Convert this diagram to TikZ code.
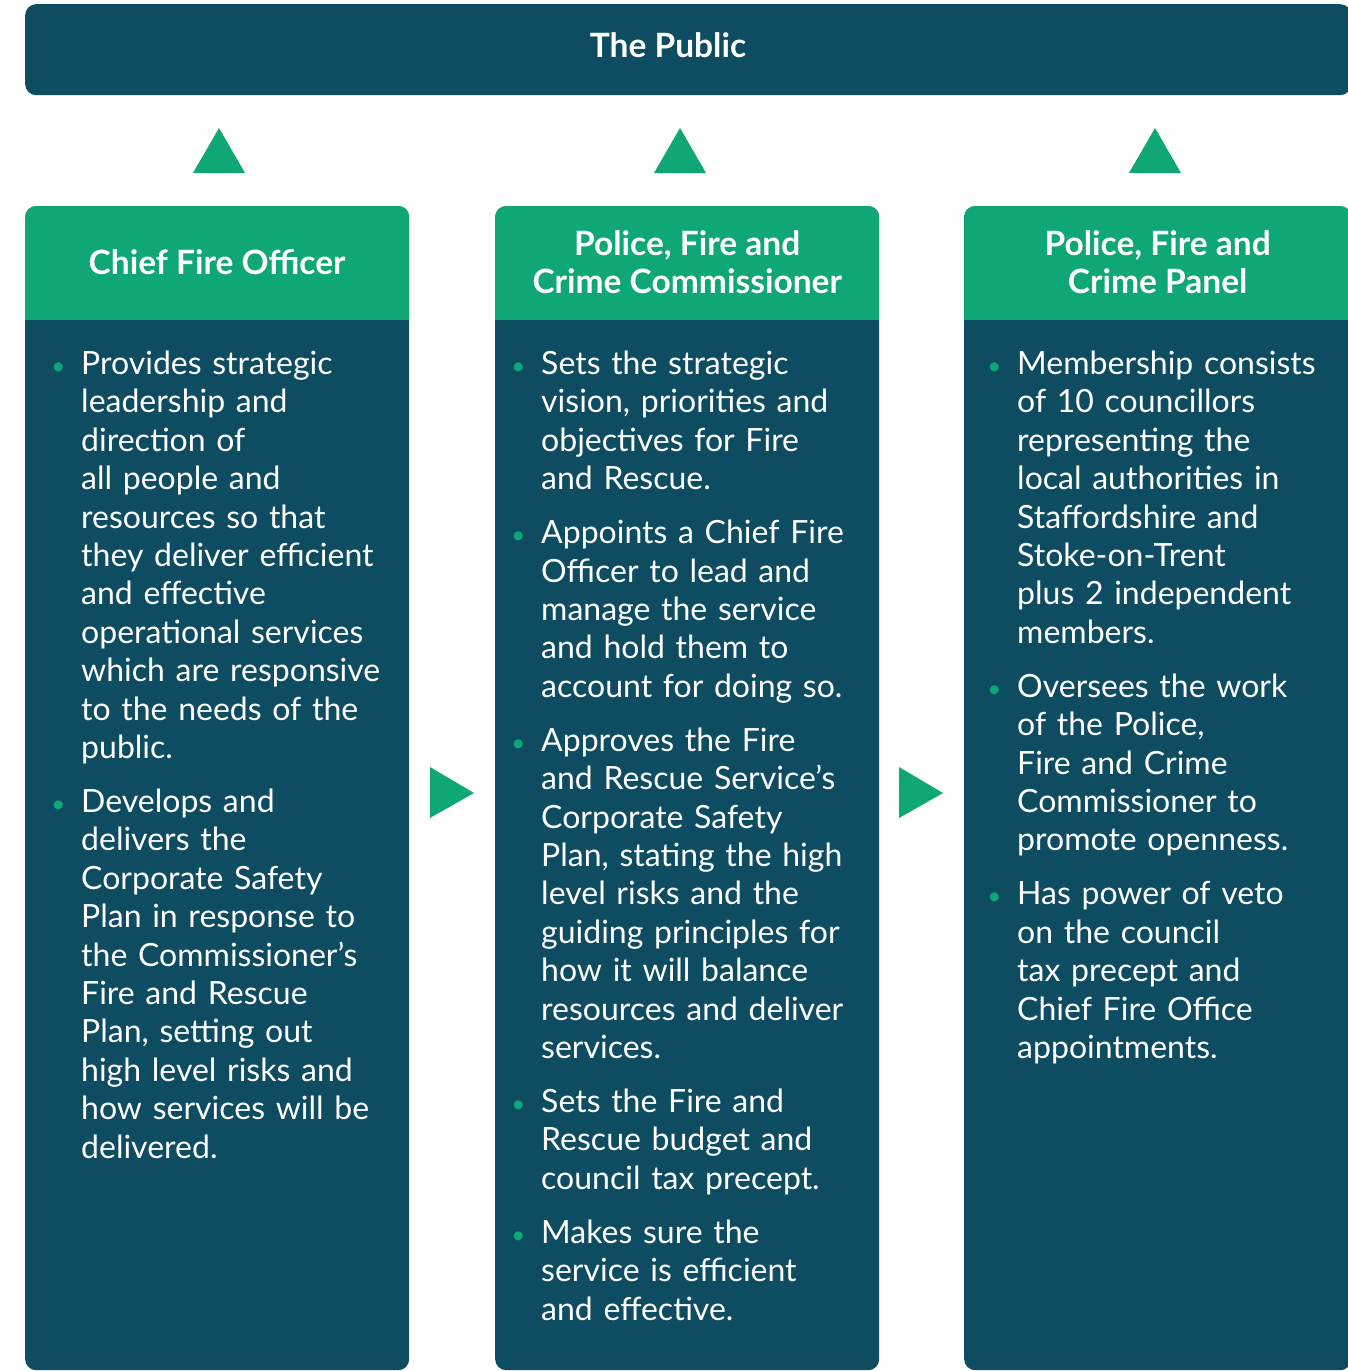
\documentclass[tikz,border=0pt]{standalone}
\usepackage{fontspec}
\setmainfont{Lato}
\usetikzlibrary{calc,positioning}
\definecolor{pfcdark}{HTML}{0E4C62}
\definecolor{pfcgreen}{HTML}{0EA775}
\newcommand{\pitem}{\leavevmode\llap{\textcolor{pfcgreen}{\fontsize{24}{24}\selectfont\textbullet}\hspace{16pt}}}
\newcommand{\nextitem}{\par\vspace{15.6pt}\pitem}

\begin{document}
\begin{tikzpicture}[x=1pt, y=-1pt,
    colbox/.style={rectangle, rounded corners=11pt, fill=pfcdark, inner sep=0pt, anchor=north west},
    headtext/.style={text=white, font=\fontsize{33.5}{38}\selectfont\bfseries, align=center, inner sep=0pt},
    bodytext/.style={text=white, font=\fontsize{32}{38.4}\selectfont, text width=345pt, align=left, inner sep=0pt, anchor=base west}]
    \useasboundingbox[fill=white] (0,0) rectangle (1347,1371);

    % top bar
    \node[colbox, minimum width=1326pt, minimum height=91pt] (public) at (25,4) {};
    \node[headtext] (public label) at (668,45) {The Public};

    % the three columns
    \node[colbox, minimum width=384pt, minimum height=1164pt] (cfo) at (25,206) {};
    \node[colbox, minimum width=384pt, minimum height=1164pt] (pfcc) at (495,206) {};
    \node[colbox, minimum width=387pt, minimum height=1164pt] (panel) at (964,206) {};
    \foreach \b in {cfo,pfcc,panel}{
        \begin{scope}
            \clip[rounded corners=11pt] (\b.north west) rectangle (\b.south east);
            \fill[pfcgreen] (\b.north west) rectangle ($(\b.north east)+(0,114)$);
        \end{scope}
    }
    \node[headtext] (cfo head) at ($(cfo.north)+(0,56)$) {Chief Fire Officer};
    \node[headtext] (pfcc head) at ($(pfcc.north)+(0,56)$) {Police, Fire and\\Crime Commissioner};
    \node[headtext] (panel head) at ($(panel.north)+(0,56)$) {Police, Fire and\\Crime Panel};

    % arrows
    \foreach \x in {219,680,1155}
        \fill[pfcgreen] (\x-26,173) -- (\x+26,173) -- (\x,128) -- cycle;
    \foreach \x in {430,899}
        \fill[pfcgreen] (\x,767) -- (\x,818) -- (\x+44,793) -- cycle;

    \node[bodytext] (cfo text) at (81,374.5) {\pitem Provides strategic\\leadership and\\direction of\\all people and\\resources so that\\they deliver efficient\\and effective\\operational services\\which are responsive\\to the needs of the\\public.
        \nextitem Develops and\\delivers the\\Corporate Safety\\Plan in response to\\the Commissioner’s\\Fire and Rescue\\Plan, setting out\\high level risks and\\how services will be\\delivered.};
    \node[bodytext] (pfcc text) at (541,374.5) {\pitem Sets the strategic\\vision, priorities and\\objectives for Fire\\and Rescue.
        \nextitem Appoints a Chief Fire\\Officer to lead and\\manage the service\\and hold them to\\account for doing so.
        \nextitem Approves the Fire\\and Rescue Service’s\\Corporate Safety\\Plan, stating the high\\level risks and the\\guiding principles for\\how it will balance\\resources and deliver\\services.
        \nextitem Sets the Fire and\\Rescue budget and\\council tax precept.
        \nextitem Makes sure the\\service is efficient\\and effective.};
    \node[bodytext] (panel text) at (1017,374.5) {\pitem Membership consists\\of 10 councillors\\representing the\\local authorities in\\Staffordshire and\\Stoke-on-Trent\\plus 2 independent\\members.
        \nextitem Oversees the work\\of the Police,\\Fire and Crime\\Commissioner to\\promote openness.
        \nextitem Has power of veto\\on the council\\tax precept and\\Chief Fire Office\\appointments.};
\end{tikzpicture}
\end{document}
